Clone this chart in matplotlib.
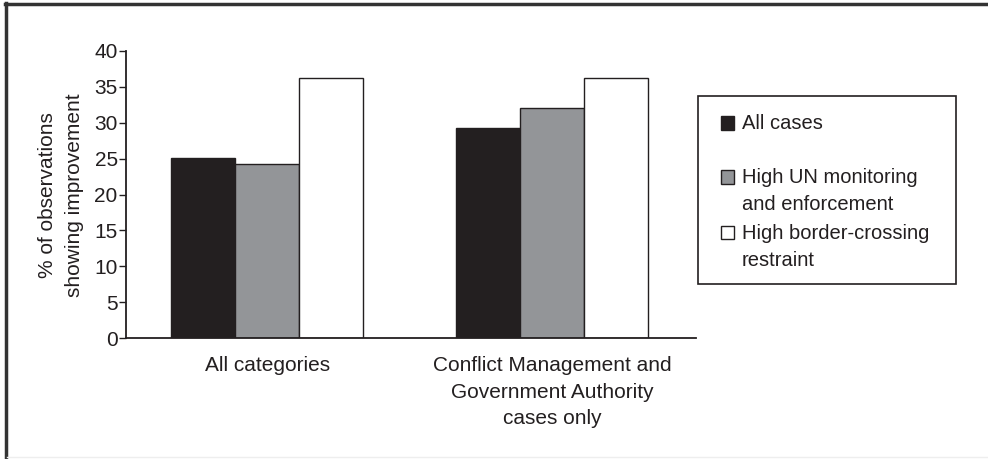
import matplotlib
matplotlib.use("Agg")
import matplotlib.pyplot as plt
from matplotlib.patches import Rectangle
from matplotlib.lines import Line2D
import numpy as np

plt.rcParams['font.family'] = ['Liberation Sans', 'DejaVu Sans']

categories = ["All categories",
              "Conflict Management and\nGovernment Authority\ncases only"]
series_names = ["All cases",
                "High UN monitoring\nand enforcement",
                "High border-crossing\nrestraint"]
all_cases = [25.1, 29.2]
high_un = [24.3, 32.1]
high_border = [36.3, 36.3]
yticks = [0, 5, 10, 15, 20, 25, 30, 35, 40]

series = [all_cases, high_un, high_border]
colors = ["#231f20", "#939598", "#ffffff"]
dark = "#231f20"
FS = 15

W, H = 988, 459
fig = plt.figure(figsize=(W / 100, H / 100), dpi=100)

def fx(x):
    return x / W

def fy(y):
    return 1 - y / H

# axes placement (pixels)
ax_l, ax_r, ax_t, ax_b = 126, 696, 51, 338
ax = fig.add_axes([fx(ax_l), fy(ax_b), fx(ax_r - ax_l), (ax_b - ax_t) / H])

x = np.arange(len(categories))
bw = 0.225
for i, (vals, c) in enumerate(zip(series, colors)):
    ax.bar(x + (i - 1) * bw, vals, width=bw, color=c, edgecolor=dark,
           linewidth=1.0, zorder=2)

ax.set_xlim(-0.497, 1.506)
ax.set_ylim(0, 40)
ax.set_yticks(yticks)
ax.set_xticks(x)
ax.set_xticklabels(categories, fontsize=FS, color=dark, linespacing=1.5)
ax.tick_params(axis='x', length=0, pad=13)
ax.tick_params(axis='y', length=5, width=1.0, color=dark, labelsize=FS,
               labelcolor=dark, pad=1)
for s in ['top', 'right']:
    ax.spines[s].set_visible(False)
for s in ['left', 'bottom']:
    ax.spines[s].set_color(dark)
    ax.spines[s].set_linewidth(1.3)

fig.text(fx(61), fy(195), "% of observations\nshowing improvement",
         fontsize=FS, color=dark, rotation=90, ha='center', va='center',
         linespacing=1.5, multialignment='center')

# legend drawn manually
lg_l, lg_r, lg_t, lg_b = 698, 956, 96, 284
fig.patches.append(Rectangle((fx(lg_l), fy(lg_b)), fx(lg_r - lg_l),
                             (lg_b - lg_t) / H, transform=fig.transFigure,
                             facecolor="white", edgecolor=dark, linewidth=1.2))
entry_y = [123, 177, 233]
sq = 13
for name, c, ey in zip(series_names, colors, entry_y):
    fig.patches.append(Rectangle((fx(721), fy(ey + sq / 2)), fx(sq), sq / H,
                                 transform=fig.transFigure, facecolor=c,
                                 edgecolor=dark, linewidth=1.0))
    fig.text(fx(742), fy(ey - 9), name, fontsize=14.5, color=dark,
             va='top', ha='left', linespacing=1.5)

# outer frame
fig.lines.append(Line2D([fx(6), fx(6)], [fy(3), fy(459)],
                        transform=fig.transFigure, color="#333333", lw=2.5))
fig.lines.append(Line2D([fx(5), fx(988)], [fy(4), fy(4)],
                        transform=fig.transFigure, color="#333333", lw=2.5))
fig.lines.append(Line2D([fx(7), fx(988)], [fy(457), fy(457)],
                        transform=fig.transFigure, color="#eeeeee", lw=1))

fig.savefig("out.png", dpi=100)
